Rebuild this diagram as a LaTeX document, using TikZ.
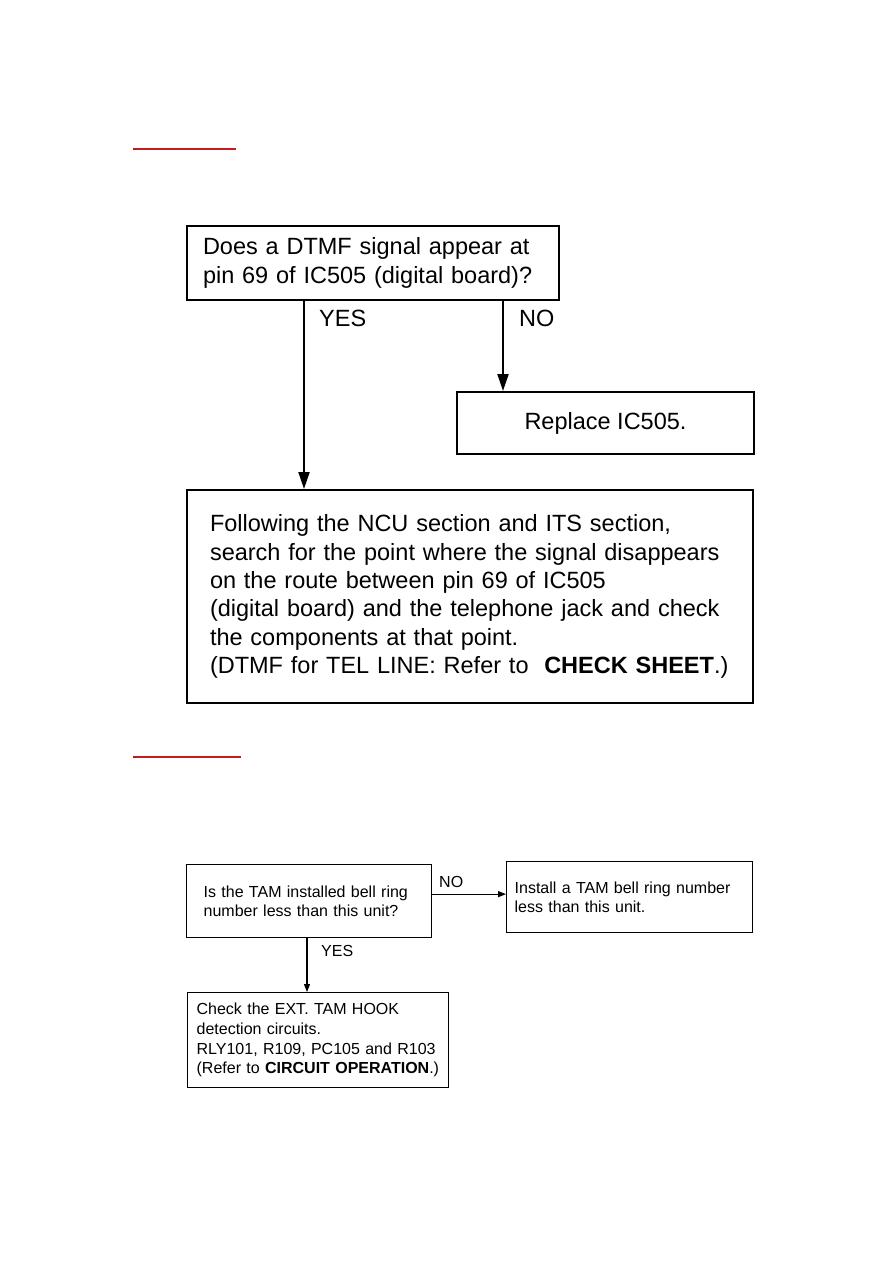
\documentclass[tikz,border=0pt]{standalone}
\usepackage{fontspec}
\setmainfont{Liberation Sans}
\usetikzlibrary{arrows.meta}
\definecolor{hdred}{RGB}{195,28,28}
\frenchspacing

\begin{document}
\begin{tikzpicture}[x=1pt, y=-1pt,
        bigbox/.style={draw, line width=2pt, anchor=north west, align=left, inner ysep=0pt,
                       font=\fontsize{23.5}{28.3}\selectfont},
        smallbox/.style={draw, line width=1.3pt, anchor=north west, align=left, inner ysep=0pt,
                         font=\fontsize{16}{19.7}\selectfont},
        bigarr/.style={-{Triangle[length=17pt, width=11pt]}, line width=2pt},
        smallarr/.style={-{Triangle[length=8pt, width=6pt]}, line width=1.1pt},
        biglbl/.style={font=\fontsize{23.5}{28}\selectfont, anchor=west, inner sep=0pt},
        smalllbl/.style={font=\fontsize{16}{20}\selectfont, anchor=west, inner sep=0pt},
        hdrule/.style={draw=hdred, line width=2pt}
    ]
    \useasboundingbox (0,0) rectangle (893,1263);

    % Section 1: DTMF check
    \draw[hdrule] (133,149) -- (236,149);
    \node[bigbox, minimum width=372pt, minimum height=74pt, text width=340pt, inner xsep=16pt]
        (dtmf) at (186,225) {Does a DTMF signal appear at\\pin 69 of IC505 (digital board)?};
    \node[bigbox, align=center, minimum width=297pt, minimum height=62pt]
        (repl) at (456,391) {Replace IC505.};
    \node[bigbox, minimum width=566pt, minimum height=213pt, text width=520pt, inner xsep=23pt]
        (follow) at (186,489) {Following the NCU section and ITS section,\\
        search for the point where the signal disappears\\
        on the route between pin 69 of IC505\\
        (digital board) and the telephone jack and check\\
        the components at that point.\\
        (DTMF for TEL LINE: Refer to \ \textbf{CHECK SHEET}.)};

    \coordinate (dyes) at ([xshift=118pt]dtmf.south west);
    \coordinate (dno)  at ([xshift=317pt]dtmf.south west);
    \draw[bigarr] (dyes) -- (dyes |- follow.north);
    \draw[bigarr] (dno) -- (dno |- repl.north);
    \node[biglbl] (dyeslbl) at (319,318) {YES};
    \node[biglbl] (dnolbl)  at (519,318) {NO};

    % Section 2: TAM check
    \draw[hdrule] (133,757) -- (241,757);
    \node[smallbox, minimum width=245pt, minimum height=73pt, text width=211pt, inner xsep=17pt]
        (tam) at (186,864) {Is the TAM installed bell ring\\number less than this unit?};
    \node[smallbox, minimum width=246pt, minimum height=71pt, text width=230pt, inner xsep=8pt]
        (inst) at (506,861) {Install a TAM bell ring number\\less than this unit.};
    \node[smallbox, minimum width=261pt, minimum height=95pt, text width=243pt, inner xsep=9pt]
        (check) at (187,992) {Check the EXT. TAM HOOK\\detection circuits.\\
        RLY101, R109, PC105 and R103\\(Refer to \textbf{CIRCUIT OPERATION}.)};

    \coordinate (tno)  at ([yshift=7pt]tam.east);
    \coordinate (tyes) at ([xshift=121pt]tam.south west);
    \draw[smallarr] (tno) -- (tno -| inst.west);
    \draw[smallarr] (tyes) -- (tyes |- check.north);
    \node[smalllbl] (tnolbl)  at (439,882) {NO};
    \node[smalllbl] (tyeslbl) at (321,951) {YES};
\end{tikzpicture}
\end{document}
